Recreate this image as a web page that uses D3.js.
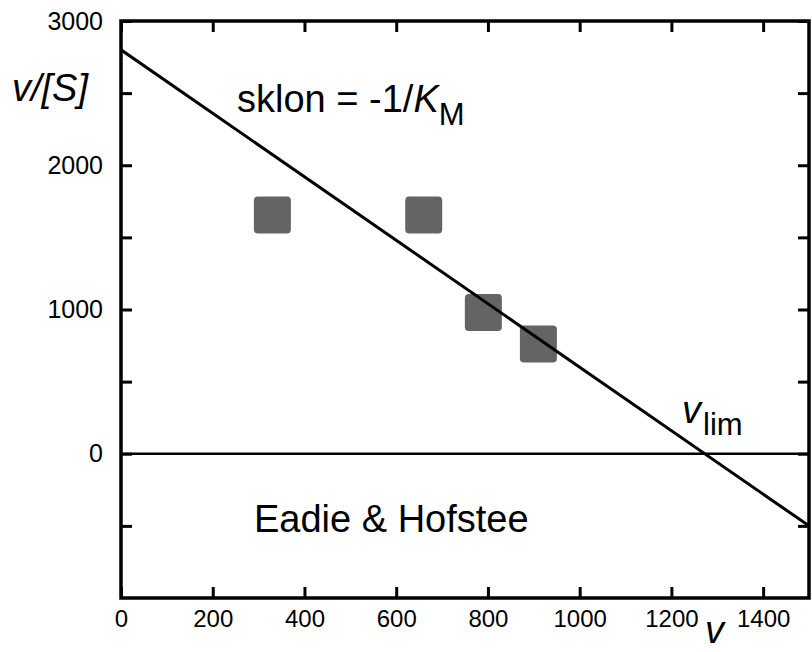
<!DOCTYPE html>
<html>
<head>
<meta charset="utf-8">
<script src="https://cdn.jsdelivr.net/npm/d3@7"></script>
<style>
  body { margin: 0; background: #fff; }
  svg { display: block; font-family: "Liberation Sans", Arial, sans-serif; }
</style>
</head>
<body>
<svg id="chart" width="812" height="652"></svg>
<script>
// measured values (v, v/[S])
const velocity = [330, 660, 790, 910]
const velocityOverS = [1655, 1655, 980, 760]

// fitted line end points
const fitV = [0, 1500]
const fitVS = [2800, -500]

const xTicks = [0, 200, 400, 600, 800, 1000, 1200, 1400]
const yTicks = [-500, 0, 500, 1000, 1500, 2000, 2500, 3000]

const dims = {
	width: 812,
	height: 652,
	margin: {top: 21, left: 121, right: 3, bottom: 54}
}

const svg = d3.select("#chart")

const x = d3.scaleLinear()
	.domain([0, 1500])
	.range([dims.margin.left, dims.width - dims.margin.right])

const y = d3.scaleLinear()
	.domain([-1000, 3000])
	.range([dims.height - dims.margin.bottom, dims.margin.top])

const [x0, x1] = x.range()
const [y0, y1] = y.range()

svg.append("clipPath").attr("id", "plot")
	.append("rect")
		.attr("x", x0).attr("y", y1)
		.attr("width", x1 - x0).attr("height", y0 - y1)

const yLabel = d => d % 1000 === 0 ? d : ""

const styleAxis = g => {
	g.select(".domain").remove()
	g.selectAll(".tick line").attr("stroke", "#000").attr("stroke-width", 3)
	g.selectAll(".tick text").attr("fill", "#000").attr("font-size", 24)
}

svg.append("g")
	.attr("transform", `translate(0,${y0})`)
	.call(d3.axisBottom(x).tickValues(xTicks).tickSize(-11).tickPadding(12).tickFormat(d3.format("d")))
	.call(styleAxis)

svg.append("g")
	.attr("transform", `translate(0,${y1})`)
	.call(d3.axisTop(x).tickValues(xTicks).tickSize(-11).tickFormat(""))
	.call(styleAxis)

svg.append("g")
	.attr("transform", `translate(${x0},0)`)
	.call(d3.axisLeft(y).tickValues(yTicks).tickSize(-11).tickPadding(18).tickFormat(yLabel))
	.call(styleAxis)
	.call(g => g.selectAll(".tick text").attr("font-size", 25))

svg.append("g")
	.attr("transform", `translate(${x1},0)`)
	.call(d3.axisRight(y).tickValues(yTicks).tickSize(-11).tickFormat(""))
	.call(styleAxis)

// zero line
svg.append("line")
	.attr("x1", x0).attr("x2", x1)
	.attr("y1", y(0)).attr("y2", y(0))
	.attr("stroke", "#000").attr("stroke-width", 2.5)

// points
const size = 37
svg.append("g")
	.selectAll("rect")
	.data(velocity)
	.join("rect")
		.attr("x", d => x(d) - size / 2)
		.attr("y", (d, i) => y(velocityOverS[i]) - size / 2)
		.attr("width", size)
		.attr("height", size)
		.attr("rx", 4)
		.attr("fill", "#646464")

// fit line
svg.append("path")
	.datum(fitV.map((d, i) => [d, fitVS[i]]))
	.attr("clip-path", "url(#plot)")
	.attr("fill", "none")
	.attr("stroke", "#000")
	.attr("stroke-width", 3)
	.attr("d", d3.line().x(d => x(d[0])).y(d => y(d[1])))

// frame
svg.append("rect")
	.attr("x", x0).attr("y", y1)
	.attr("width", x1 - x0).attr("height", y0 - y1)
	.attr("fill", "none")
	.attr("stroke", "#000")
	.attr("stroke-width", 3.5)

// annotations
const big = 38, sub = 31

svg.append("text")
	.attr("x", 12).attr("y", 101)
	.attr("font-size", big).attr("font-style", "italic")
	.text("v/[S]")

const slope = svg.append("text")
	.attr("x", 237).attr("y", 112)
	.attr("font-size", big)
slope.append("tspan").text("sklon = -1/")
slope.append("tspan").attr("font-style", "italic").text("K")
slope.append("tspan").attr("font-size", sub).attr("dy", 13).text("M")

const vlim = svg.append("text")
	.attr("x", 682).attr("y", 423)
	.attr("font-size", big)
vlim.append("tspan").attr("font-style", "italic").text("v")
vlim.append("tspan").attr("font-size", sub).attr("dy", 12).attr("dx", 2).text("lim")

svg.append("text")
	.attr("x", 254).attr("y", 532)
	.attr("font-size", big)
	.text("Eadie & Hofstee")

svg.append("text")
	.attr("x", 705).attr("y", 643)
	.attr("font-size", big).attr("font-style", "italic")
	.text("v")
</script>
</body>
</html>
